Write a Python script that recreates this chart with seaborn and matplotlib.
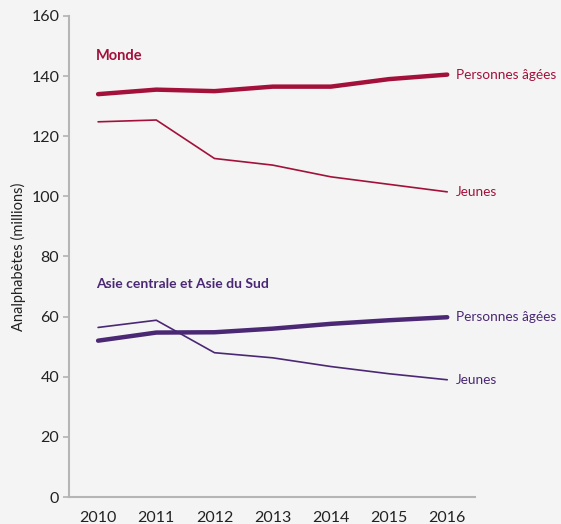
import matplotlib
matplotlib.use("Agg")
import matplotlib.pyplot as plt
import seaborn as sns
import pandas as pd

years = [2010, 2011, 2012, 2013, 2014, 2015, 2016]
monde_agees = [134, 135.5, 135, 136.5, 136.5, 139, 140.5]
monde_jeunes = [124.8, 125.4, 112.6, 110.4, 106.5, 104, 101.5]
asie_agees = [52, 54.7, 54.8, 56, 57.6, 58.8, 59.8]
asie_jeunes = [56.4, 58.8, 48, 46.3, 43.4, 41, 39]

crimson = "#a3113b"
purple = "#4a2873"
bg = "#f4f4f4"

sns.set_theme(style="white")
plt.rcParams['font.family'] = ['Lato', 'DejaVu Sans']

fig = plt.figure(figsize=(5.61, 5.24), dpi=100, facecolor=bg)
ax = fig.add_axes([0.123, 0.0515, 0.724, 0.918])
ax.set_facecolor(bg)

series = [
    (monde_agees, crimson, 3.2, "Personnes âgées"),
    (monde_jeunes, crimson, 1.2, "Jeunes"),
    (asie_agees, purple, 3.2, "Personnes âgées"),
    (asie_jeunes, purple, 1.2, "Jeunes"),
]
for vals, col, lw, lab in series:
    df = pd.DataFrame({"year": years, "value": vals})
    sns.lineplot(data=df, x="year", y="value", color=col, linewidth=lw, ax=ax)
    ax.annotate(lab, xy=(years[-1], vals[-1]), xytext=(6, 0), textcoords="offset points",
                ha="left", va="center", color=col, fontsize=9.8)

ax.text(2009.97, 146.7, "Monde", color=crimson, fontsize=10.5, fontweight="bold", ha="left", va="center")
ax.text(2009.97, 70.9, "Asie centrale et Asie du Sud", color=purple, fontsize=10, fontweight="bold", ha="left", va="center")

ax.set_xlim(2009.5, 2016.48)
ax.set_ylim(0, 160)
ax.set_yticks(range(0, 161, 20))
ax.set_xticks(years)
ax.set_xticklabels([str(y) for y in years])
ax.set_xlabel("")
ax.set_ylabel("Analphabètes (millions)", fontsize=10.5, color="#222222", labelpad=4)
sns.despine(ax=ax)
for s in ["left", "bottom"]:
    ax.spines[s].set_color("#b5b5b5")
    ax.spines[s].set_linewidth(1.5)
ax.tick_params(axis="y", which="both", left=True, length=4, color="#b5b5b5", labelsize=11.5, labelcolor="#222222", pad=3)
ax.tick_params(axis="x", bottom=False, labelsize=11.5, labelcolor="#222222", pad=4)

fig.savefig("out.png", dpi=100, facecolor=bg)
